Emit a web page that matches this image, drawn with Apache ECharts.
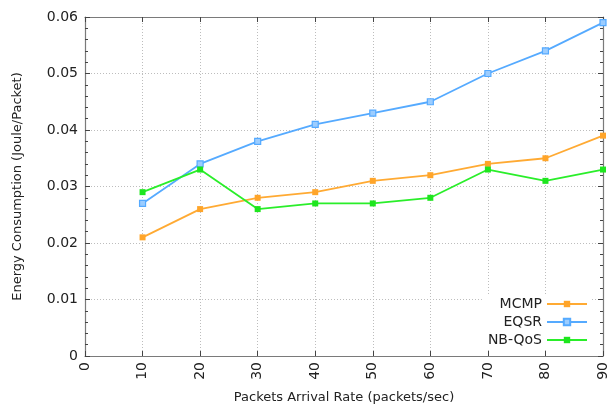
<!DOCTYPE html>
<html><head><meta charset="utf-8">
<script src="https://cdn.jsdelivr.net/npm/echarts@6/dist/echarts.min.js"></script>
<style>html,body{margin:0;padding:0;background:#fff}#c{width:610px;height:409px}</style>
</head><body><div id="c"></div>
<script>
const xValues = [10, 20, 30, 40, 50, 60, 70, 80, 90];
const mcmp = [0.021, 0.026, 0.028, 0.029, 0.031, 0.032, 0.034, 0.035, 0.039];
const eqsr = [0.027, 0.034, 0.038, 0.041, 0.043, 0.045, 0.050, 0.054, 0.059];
const nbqos = [0.029, 0.033, 0.026, 0.027, 0.027, 0.028, 0.033, 0.031, 0.033];
const seriesNames = ['MCMP', 'EQSR', 'NB-QoS'];
const xName = 'Packets Arrival Rate (packets/sec)';
const yName = 'Energy Consumption (Joule/Packet)';

const pair = arr => xValues.map((x, i) => [x, arr[i]]);
const FONT = 'DejaVu Sans';
const axisCol = '#7a7a7a';
const gridLine = { show: true, lineStyle: { color: '#bdbdbd', type: [1, 2], width: 1 } };

const chart = echarts.init(document.getElementById('c'), null, { renderer: 'canvas' });
chart.setOption({
  animation: false,
  textStyle: { fontFamily: FONT },
  grid: { left: 85, right: 3, top: 17, bottom: 53 },
  xAxis: [{
    type: 'value', min: 0, max: 90, interval: 10, position: 'bottom',
    name: xName, nameLocation: 'middle', nameGap: 35,
    nameTextStyle: { fontFamily: FONT, fontSize: 13, color: '#222' },
    axisLine: { show: true, onZero: false, lineStyle: { color: axisCol, width: 1.2 } },
    axisTick: { show: true, inside: true, length: 5, lineStyle: { color: '#444' } },
    axisLabel: { rotate: 90, fontFamily: FONT, fontSize: 14, color: '#222', margin: 6 },
    splitLine: gridLine
  }, {
    type: 'value', min: 0, max: 90, interval: 10, position: 'top',
    axisLine: { show: true, onZero: false, lineStyle: { color: axisCol, width: 1.2 } },
    axisTick: { show: true, inside: true, length: 5, lineStyle: { color: '#444' } },
    axisLabel: { show: false }, splitLine: { show: false }
  }],
  yAxis: [{
    type: 'value', min: 0, max: 0.06, interval: 0.01, position: 'left',
    name: yName, nameLocation: 'middle', nameGap: 61, nameRotate: 90,
    nameTextStyle: { fontFamily: FONT, fontSize: 13, color: '#222' },
    axisLine: { show: true, onZero: false, lineStyle: { color: axisCol, width: 1.2 } },
    axisTick: { show: true, inside: true, length: 5, lineStyle: { color: '#444' } },
    minorTick: { show: true, splitNumber: 5, length: 3, lineStyle: { color: '#444' } },
    axisLabel: { fontFamily: FONT, fontSize: 14, color: '#222', margin: 7,
      formatter: v => v === 0 ? '0' : v.toFixed(2) },
    splitLine: gridLine
  }, {
    type: 'value', min: 0, max: 0.06, interval: 0.01, position: 'right',
    axisLine: { show: true, onZero: false, lineStyle: { color: axisCol, width: 1.2 } },
    axisTick: { show: true, inside: true, length: 5, lineStyle: { color: '#444' } },
    minorTick: { show: true, splitNumber: 5, length: 3, lineStyle: { color: '#444' } },
    axisLabel: { show: false }, splitLine: { show: false }
  }],
  legend: {
    orient: 'vertical', right: 20, top: 295, align: 'right',
    itemWidth: 40, itemHeight: 8, itemGap: 4,
    backgroundColor: '#fff', padding: [2, 2, 2, 6],
    textStyle: { fontFamily: FONT, fontSize: 14, color: '#222' },
    data: seriesNames
  },
  series: [
    { name: seriesNames[0], type: 'line', data: pair(mcmp), symbol: 'rect', symbolSize: 6,
      lineStyle: { color: '#ffaa33', width: 1.8 }, itemStyle: { color: '#ffa52a' } },
    { name: seriesNames[1], type: 'line', data: pair(eqsr), symbol: 'rect', symbolSize: 6,
      lineStyle: { color: '#55aaff', width: 1.8 }, itemStyle: { color: '#9ccdff', borderColor: '#55aaff', borderWidth: 1.2 } },
    { name: seriesNames[2], type: 'line', data: pair(nbqos), symbol: 'rect', symbolSize: 6,
      lineStyle: { color: '#2aee2a', width: 1.8 }, itemStyle: { color: '#1ee61e' } }
  ]
});
</script></body></html>
